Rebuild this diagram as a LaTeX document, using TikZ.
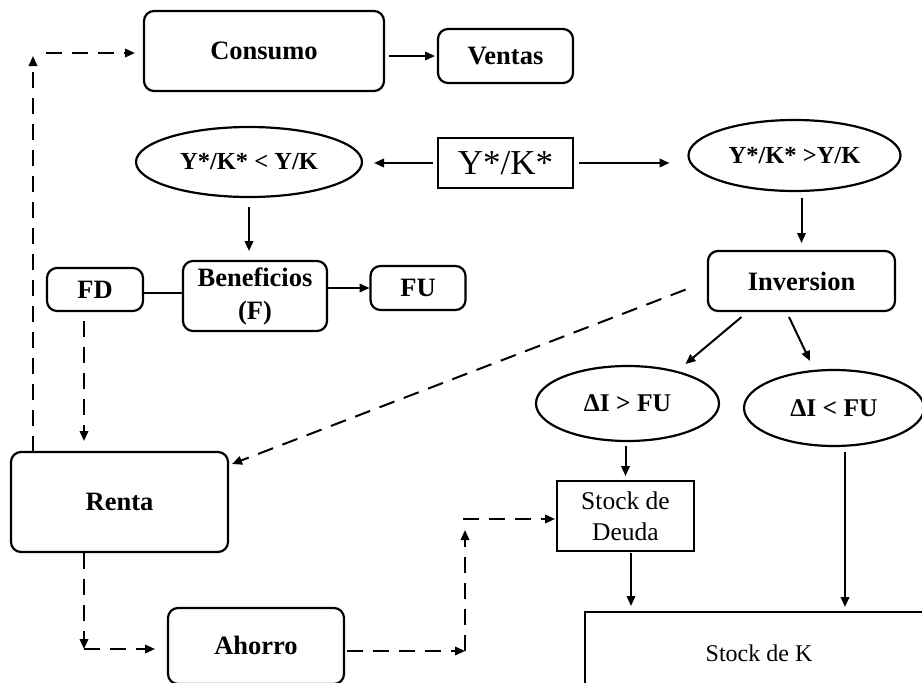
\documentclass[tikz,border=0pt]{standalone}
\usepackage{fontspec}
\setmainfont{Liberation Serif}
\usetikzlibrary{shapes.geometric,arrows.meta}
\begin{document}
\begin{tikzpicture}[x=1pt,y=-1pt,
  every node/.style={inner sep=0pt,outer sep=0pt,align=center,line width=2.2pt},
  rbox/.style={draw,rounded corners=10pt,font=\fontsize{26.5}{33}\selectfont\bfseries},
  sbox/.style={draw,font=\fontsize{25.5}{31}\selectfont},
  ell/.style={draw,ellipse,font=\fontsize{24.5}{30}\selectfont\bfseries},
  arr/.style={line width=2pt,-{Triangle[length=10pt,width=8.5pt]}},
  darr/.style={arr,dash pattern=on 16pt off 10pt},
  dline/.style={line width=2pt,dash pattern=on 16pt off 10pt}]
\useasboundingbox (0,0) rectangle (922,683);
\clip (0,0) rectangle (922,683);
% nodes
\node[rbox,minimum width=240pt,minimum height=80pt] (consumo) at (264,51) {Consumo};
\node[rbox,minimum width=135pt,minimum height=54pt] (ventas) at (505.5,56) {Ventas};
\node[sbox,minimum width=135pt,minimum height=50pt,font=\fontsize{35}{40}\selectfont] (yk) at (505.5,163) {Y*/K*};
\node[ell,minimum width=226pt,minimum height=70pt] (ell1) at (249,162) {Y*/K* < Y/K};
\node[ell,minimum width=212pt,minimum height=71pt] (ell2) at (794.5,155.5) {Y*/K* >Y/K};
\node[rbox,minimum width=187pt,minimum height=60pt] (inv) at (801.5,281) {Inversion};
\node[rbox,minimum width=144pt,minimum height=70pt] (ben) at (255,296) {Beneficios\\(F)};
\node[rbox,minimum width=96pt,minimum height=43pt] (fd) at (95,289.5) {FD};
\node[rbox,minimum width=95pt,minimum height=44pt] (fu) at (418,288) {FU};
\node[rbox,minimum width=217pt,minimum height=100pt] (renta) at (119.5,502) {Renta};
\node[rbox,minimum width=176pt,minimum height=76pt,anchor=north] (ahorro) at (256,608) {\raisebox{2pt}{Ahorro}};
\node[ell,font=\fontsize{25.5}{30}\selectfont\bfseries,minimum width=183pt,minimum height=75pt] (di1) at (627.5,403.5) {ΔI > FU};
\node[ell,font=\fontsize{25.5}{30}\selectfont\bfseries,minimum width=180pt,minimum height=76pt] (di2) at (834,408) {ΔI < FU};
\node[sbox,minimum width=137pt,minimum height=70pt] (deuda) at (625.5,516) {Stock de\\Deuda};
\node[sbox,font=\fontsize{24}{30}\selectfont,minimum width=354pt,minimum height=90pt,anchor=north west] (stockk) at (585,612) {\raisebox{8pt}{Stock de K}\hspace*{6pt}};
% coordinates
\coordinate (c1) at (33,56);
\coordinate (c2) at (46,53);
\coordinate (c3) at (84,649);
\coordinate (c4) at (465,651);
\coordinate (c5) at (465,530);
\coordinate (c6) at (463,519);
% connectors
\draw[darr] (c1 |- renta.north) -- (c1);
\draw[darr,shorten >=9pt] (c2) -- (c2 -| consumo.west);
\draw[arr,shorten <=5pt,shorten >=3pt] (consumo.east |- ventas) -- (ventas.west);
\draw[arr,shorten <=5pt,shorten >=12pt] (yk.west) -- (ell1.east |- yk.west);
\draw[arr,shorten <=6pt,shorten >=19pt] (yk.east) -- (yk.east -| ell2.west);
\draw[arr,shorten <=7pt,shorten >=8pt] (ell2.south -| inv.north) -- (inv.north);
\draw[arr,shorten <=10pt,shorten >=10pt] (ell1.south) -- (ell1.south |- ben.north);
\draw[line width=2pt] ([yshift=-3pt]fd.east) -- ([yshift=-3pt]fd.east -| ben.west);
\draw[arr,shorten >=1pt] (ben.east |- fu) -- (fu.west);
\draw[darr,shorten <=10pt,shorten >=11pt] ([xshift=-11pt]fd.south) -- ([xshift=-11pt]fd.south |- renta.north);
\draw[darr,shorten <=24pt] (inv.west) -- ([xshift=4pt,yshift=-12pt]renta.north east);
\draw[arr] ([shift={(-60pt,-6pt)}]inv.south) -- ([shift={(58pt,2pt)}]di1.north);
\draw[arr] ([shift={(-12.5pt,-6pt)}]inv.south) -- ([shift={(-24pt,9pt)}]di2.north);
\draw[arr,shorten <=5pt,shorten >=5pt] (deuda.north |- di1.south) -- (deuda.north);
\draw[arr,shorten <=2pt,shorten >=6pt] ([xshift=5.5pt]deuda.south) -- ([xshift=5.5pt]deuda.south |- stockk.north);
\draw[arr,shorten <=6pt,shorten >=5pt] ([xshift=11pt]di2.south) -- ([xshift=11pt]di2.south |- stockk.north);
\draw[darr,shorten <=1pt] (c3 |- renta.south) -- (c3);
\draw[darr,shorten >=13pt] (c3) -- (c3 -| ahorro.west);
\draw[darr,shorten <=3pt] (ahorro.east |- c4) -- (c4);
\draw[darr] (c4) -- (c5);
\draw[darr,shorten >=2pt] (c6) -- (c6 -| deuda.west);
\end{tikzpicture}
\end{document}
